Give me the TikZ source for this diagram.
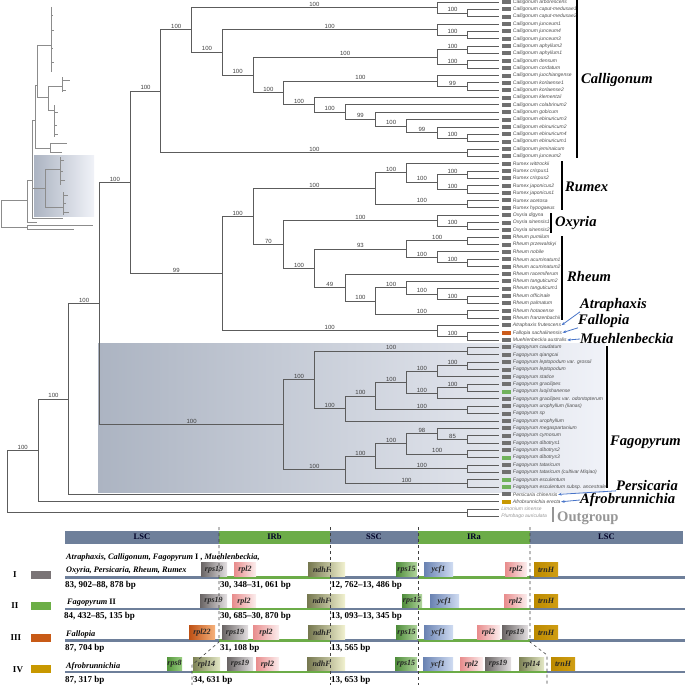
\documentclass[tikz,border=0pt]{standalone}
\usepackage{fontspec}
\setmainfont{Liberation Serif}
\setsansfont{Liberation Sans}
\usetikzlibrary{arrows.meta,positioning,calc}

\definecolor{lgray}{RGB}{112,112,112}
\definecolor{lgreen}{RGB}{112,178,92}
\definecolor{lorange}{RGB}{204,92,28}
\definecolor{lgold}{RGB}{200,152,0}
\definecolor{branch}{RGB}{92,92,92}
\definecolor{arrowblue}{RGB}{72,116,200}
\definecolor{regionblue}{RGB}{110,127,154}
\definecolor{irgreen}{RGB}{108,172,72}
\definecolor{outgray}{RGB}{150,150,150}
\definecolor{fagleft}{RGB}{172,180,194}
\definecolor{fagright}{RGB}{240,242,248}
% gene colours
\definecolor{gray19a}{RGB}{105,100,100}  \definecolor{gray19b}{RGB}{228,224,226}
\definecolor{pink2a}{RGB}{232,140,140}   \definecolor{pink2b}{RGB}{252,238,238}
\definecolor{olivea}{RGB}{118,120,80}    \definecolor{oliveb}{RGB}{242,242,208}
\definecolor{green15a}{RGB}{78,140,58}   \definecolor{green15b}{RGB}{178,214,158}
\definecolor{bluea}{RGB}{105,130,178}    \definecolor{blueb}{RGB}{208,220,242}
\definecolor{golda}{RGB}{188,138,0}      \definecolor{goldb}{RGB}{208,158,20}
\definecolor{orangea}{RGB}{190,80,20}    \definecolor{orangeb}{RGB}{246,178,124}
\definecolor{green8a}{RGB}{85,150,60}    \definecolor{green8b}{RGB}{152,206,128}
\definecolor{olive14a}{RGB}{125,130,85}  \definecolor{olive14b}{RGB}{228,232,198}
\definecolor{keyI}{RGB}{122,116,118}
\definecolor{keyII}{RGB}{108,174,70}
\definecolor{keyIII}{RGB}{200,90,22}
\definecolor{keyIV}{RGB}{200,152,0}

\tikzset{
  br/.style={draw=branch, line width=0.9pt},
  bs/.style={pos=.75, above, inner sep=0.8pt, font=\sffamily\fontsize{6}{6}\selectfont, text=black!75},
  leafbox/.style={fill=#1, minimum width=8.5pt, minimum height=4pt, inner sep=0pt},
  leafname/.style={anchor=west, inner sep=0pt, font=\sffamily\itshape\fontsize{5}{5}\selectfont, text=black!70},
  genus/.style={anchor=west, inner sep=0pt, font=\bfseries\itshape\fontsize{14.6}{15}\selectfont},
  genusbar/.style={line width=2pt},
  pointer/.style={draw=arrowblue, line width=0.8pt, shorten >=0.5pt, -{Stealth[length=3.5pt,width=2.8pt]}},
  mini/.style={draw=black!45, line width=0.4pt},
  region/.style={minimum height=13pt, inner sep=0pt, text=black!85!blue, font=\bfseries\fontsize{8.5}{8.5}\selectfont},
  gene/.style={minimum height=13.5pt, inner sep=0pt, text=black!85, font=\bfseries\itshape\fontsize{8}{8}\selectfont},
  g19/.style={gene, left color=gray19a, right color=gray19b},
  gl2/.style={gene, left color=pink2a, right color=pink2b},
  gndhF/.style={gene, left color=olivea, right color=oliveb, text width=27pt, align=left},
  g15/.style={gene, left color=green15a, right color=green15b},
  gycf/.style={gene, left color=bluea, right color=blueb},
  gtrnH/.style={gene, left color=golda, right color=goldb},
  gl22/.style={gene, left color=orangea, right color=orangeb},
  gs8/.style={gene, left color=green8a, right color=green8b},
  gl14/.style={gene, left color=olive14a, right color=olive14b},
  legbox/.style={fill=#1, minimum width=20pt, minimum height=8pt, inner sep=0pt},
  rowtxt/.style={anchor=west, inner sep=0pt, font=\bfseries\fontsize{8.3}{9}\selectfont},
  numtxt/.style={anchor=west, inner sep=0pt, font=\bfseries\fontsize{9}{9}\selectfont},
  roman/.style={inner sep=0pt, font=\bfseries\fontsize{9}{9}\selectfont},
  bound/.style={draw=black!75, dashed, line width=0.6pt},
}

\begin{document}
\begin{tikzpicture}[x=1pt, y=-1pt]
  \useasboundingbox (0,0) rectangle (685,685);

  % overview tree
  \draw[mini] (1,200) -- (1,227) (1,200) -- (27,200) (1,227) -- (27,227);
  \draw[mini] (27,225) -- (27,229) (27,225) -- (93,225) (27,229) -- (74,229);
  \draw[mini] (27,180) -- (27,222) (27,222) -- (37,222) (27,180) -- (32,180);
  \draw[mini] (32,120) -- (32,218) (32,218) -- (63,218) (32,120) -- (35,120);
  \shade[left color=fagleft, right color=fagright] (34,155) rectangle (94,216);
  \draw[mini] (32,188) -- (45,188) (45,169) -- (45,207) (45,169) -- (60,169) (45,207) -- (63,207);
  \draw[mini] (60,157) -- (60,185) (60,160) -- (64,160) (60,171) -- (63,171) (60,180) -- (65,180);
  \draw[mini] (63,192) -- (63,215) (63,195) -- (68,195) (63,203) -- (66,203) (63,212) -- (69,212);
  \draw[mini] (35,85) -- (35,148) (35,148) -- (50,148) (50,143) -- (50,152) (50,143) -- (67,143) (50,152) -- (62,152);
  \draw[mini] (35,85) -- (37,85) (37,45) -- (37,97) (37,45) -- (51,45) (51,7) -- (51,72);
  \draw[mini] (51,15) -- (53,15) (51,30) -- (54,30) (51,48) -- (53,48) (51,62) -- (54,62);
  \draw[mini] (37,97) -- (48,97) (48,86) -- (48,110) (48,86) -- (62,86) (62,77) -- (62,92) (62,80) -- (70,80) (62,90) -- (66,90);
  \draw[mini] (48,110) -- (54,110) (54,105) -- (54,137) (54,112) -- (58,112) (54,125) -- (57,125) (54,134) -- (58,134);

  % Fagopyrum shading
  \shade[left color=fagleft, right color=fagright] (98,343) rectangle (605,492);

  % tree: x = level, y = leaf row
  \begin{scope}[x=30.7pt, y=-7.35pt, xshift=7.4pt, yshift=5.35pt]
    % Leaves
    \foreach \sp/\cl [count=\i] in {
      Calligonum arborescens/lgray, Calligonum caput-medusae1/lgray, Calligonum caput-medusae2/lgray,
      Calligonum junceum1/lgray, Calligonum junceum4/lgray, Calligonum junceum3/lgray,
      Calligonum aphyllum2/lgray, Calligonum aphyllum1/lgray, Calligonum densum/lgray,
      Calligonum cordatum/lgray, Calligonum juochiangense/lgray, Calligonum korlaense1/lgray,
      Calligonum korlaense2/lgray, Calligonum klementzii/lgray, Calligonum colabrinum2/lgray,
      Calligonum gobicum/lgray, Calligonum ebinuricum3/lgray, Calligonum ebinuricum2/lgray,
      Calligonum ebinuricum4/lgray, Calligonum ebinuricum1/lgray, Calligonum jeminaicum/lgray,
      Calligonum junceum2/lgray,
      Rumex wittrockii/lgray, Rumex crispus1/lgray, Rumex crispus2/lgray, Rumex japonicus2/lgray,
      Rumex japonicus1/lgray, Rumex acetosa/lgray, Rumex hypogaeus/lgray,
      Oxyria digyna/lgray, Oxyria sinensis1/lgray, Oxyria sinensis2/lgray,
      Rheum pumilum/lgray, Rheum przewalskyi/lgray, Rheum nobile/lgray, Rheum acuminatum1/lgray,
      Rheum acuminatum2/lgray, Rheum racemiferum/lgray, Rheum tanguticum2/lgray, Rheum tanguticum1/lgray,
      Rheum officinale/lgray, Rheum palmatum/lgray, Rheum hotaoense/lgray, Rheum franzenbachii/lgray,
      Atraphaxis frutescens/lgray, Fallopia sachalinensis/lorange, Muehlenbeckia australis/lgray,
      Fagopyrum caudatum/lgray, Fagopyrum qiangcai/lgray, Fagopyrum leptopodum var. grossii/lgray,
      Fagopyrum leptopodum/lgray, Fagopyrum statice/lgray, Fagopyrum gracilipes/lgray,
      Fagopyrum luojishanense/lgreen, Fagopyrum gracilipes var. odontopterum/lgray,
      Fagopyrum urophyllum (lianas)/lgray, Fagopyrum sp/lgray, Fagopyrum urophyllum/lgray,
      Fagopyrum megaspartanium/lgray, Fagopyrum cymosum/lgray, Fagopyrum dibotrys1/lgray,
      Fagopyrum dibotrys2/lgray, Fagopyrum dibotrys3/lgreen, Fagopyrum tataricum/lgray,
      Fagopyrum tataricum (cultivar Miqiao)/lgray, Fagopyrum esculentum/lgreen,
      Fagopyrum esculentum subsp. ancestrale/lgreen,
      Persicaria chinensis/lgray, Afrobrunnichia erecta/lgold}
    {
      \coordinate (t\i) at (16,\i);
      \node[leafbox=\cl] (b\i) at ([xshift=7.7pt]t\i) {};
      \node[leafname] (s\i) at ([xshift=2pt]b\i.east) {\sp};
    }
    \coordinate (t70) at (16,70);
    \node[leafname, text=outgray] (s70) at ([xshift=2.5pt]t70) {Limonium sinense};
    \coordinate (t71) at (16,71);
    \node[leafname, text=outgray] (s71) at ([xshift=2.5pt]t71) {Plumbago auriculata};

    % Pairs
    \foreach \u/\v in {2/3, 5/6, 7/8, 9/10, 12/13, 19/20, 21/22, 24/25, 26/27, 28/29,
                       31/32, 33/34, 36/37, 41/42, 43/44, 46/47, 48/49, 50/51, 53/54,
                       56/57, 60/61, 62/63, 64/65, 66/67, 70/71}
    {
      \coordinate (p\u) at (15,{\u+0.5});
      \draw[br] (p\u) |- (t\u);
      \draw[br] (p\u) |- (t\v);
    }

    % Internal nodes
    \coordinate (root) at (0,66.256);  \coordinate (n1) at (1,62.011);
    \coordinate (n2) at (2,55.022);    \coordinate (n3) at (3,42.044);
    \coordinate (n4) at (4,25.557);    \coordinate (cal) at (5,13.148);
    \coordinate (c1) at (6,4.796);     \coordinate (c2) at (7,7.842);
    \coordinate (c3) at (8,10.934);    \coordinate (c4) at (9,13.367);
    \coordinate (a1) at (14,1.75);     \coordinate (a2) at (14,4.75);
    \coordinate (a3) at (14,8.5);      \coordinate (a4) at (14,11.75);
    \coordinate (b1) at (10,14.984);   \coordinate (b2) at (11,15.969);
    \coordinate (b3) at (12,16.9375);  \coordinate (b4) at (13,17.875);
    \coordinate (b5) at (14,18.75);
    \coordinate (n99) at (7,37.967);   \coordinate (rr) at (8,30.184);
    \coordinate (rum) at (12,26.375);  \coordinate (r2) at (13,24.25);
    \coordinate (r3) at (14,25.5);
    \coordinate (ro) at (9,33.992);    \coordinate (oxy) at (14,30.75);
    \coordinate (rhe) at (10,37.234);  \coordinate (h2) at (13,34.625);
    \coordinate (h3) at (14,35.75);    \coordinate (h4) at (11,39.844);
    \coordinate (h5) at (12,41.6875);  \coordinate (h6) at (13,39.875);
    \coordinate (h7) at (14,40.75);    \coordinate (atr) at (14,45.75);
    \coordinate (fag) at (9,58.531);   \coordinate (f2) at (10,52.406);
    \coordinate (f3) at (11,56.3125);  \coordinate (f4) at (12,54.625);
    \coordinate (f5) at (13,52.75);    \coordinate (f6) at (14,51.25);
    \coordinate (f7) at (14,54.25);
    \coordinate (g11) at (11,64.656);  \coordinate (g12) at (12,62.8125);
    \coordinate (g13) at (13,61.125);  \coordinate (g98) at (14,59.75);

    % Branches with support values
    \foreach \p/\c/\b in {
      root/n1/100, root/p70/, n1/n2/100, n1/t69/, n2/n3/100, n2/t68/,
      n3/n4/100, n3/fag/100, n4/cal/100, n4/n99/99,
      cal/c1/100, cal/p21/100, c1/a1/100, c1/c2/100, c2/a2/100, c2/c3/100,
      c3/a3/100, c3/c4/100, c4/a4/100, c4/b1/100,
      a1/t1/, a1/p2/100, a2/t4/, a2/p5/100, a3/p7/100, a3/p9/100, a4/t11/, a4/p12/99,
      b1/t14/, b1/b2/100, b2/t15/, b2/b3/99, b3/t16/, b3/b4/100,
      b4/t17/, b4/b5/99, b5/t18/, b5/p19/100,
      n99/rr/100, n99/atr/100, rr/rum/100, rr/ro/70,
      rum/r2/100, rum/p28/100, r2/t23/, r2/r3/100, r3/p24/100, r3/p26/100,
      ro/oxy/100, ro/rhe/100, oxy/t30/, oxy/p31/100,
      rhe/h2/93, rhe/h4/49, h2/p33/100, h2/h3/100, h3/t35/, h3/p36/100,
      h4/t38/, h4/h5/100, h5/h6/100, h5/p43/100, h6/t39/, h6/h7/100, h7/t40/, h7/p41/100,
      atr/t45/, atr/p46/100,
      fag/f2/100, fag/g11/100, f2/p48/100, f2/f3/100, f3/f4/100, f3/t58/,
      f4/f5/100, f4/p56/100, f5/f6/100, f5/f7/100, f6/p50/100, f6/t52/, f7/p53/100, f7/t55/,
      g11/g12/100, g11/p66/100, g12/g13/100, g12/p64/100, g13/g98/98, g13/p62/100,
      g98/t59/, g98/p60/85}
      \draw[br] (\p) |- node[bs]{\b} (\c);
  \end{scope}

  % Genus labels
  \draw[genusbar] (577,0) -- (577,158);
  \draw[genusbar] (562,161) -- (562,210);
  \draw[genusbar] (551,213) -- (551,233);
  \draw[genusbar] (562,236) -- (562,320);
  \draw[genusbar] (607,346) -- (607,488);
  \draw[genusbar, outgray] (553,507) -- (553,522);
  \node[genus] (lcal) at (581,80) {Calligonum};
  \node[genus] (lrum) at (565,187) {Rumex};
  \node[genus] (loxy) at (555,223) {Oxyria};
  \node[genus] (lrhe) at (567,277) {Rheum};
  \node[genus] (latr) at (580,305) {Atraphaxis};
  \node[genus] (lfal) at (578,321) {Fallopia};
  \node[genus] (lmue) at (580,339) {Muehlenbeckia};
  \node[genus] (lfag) at (610,442) {Fagopyrum};
  \node[genus] (lper) at (616,485.5) {Persicaria};
  \node[genus] (lafr) at (580,500) {Afrobrunnichia};
  \node[genus, text=outgray, font=\bfseries\fontsize{14.6}{15}\selectfont] (lout) at (557,518) {Outgroup};
  \draw[pointer] (latr.south west) -- (s45.east);
  \draw[pointer] (lfal.south west) -- (s46.east);
  \draw[pointer] (lmue.west) -- (s47.east);
  \draw[pointer] (lper.south west) -- (s68.east);
  \draw[pointer] (lafr.west) -- (s69.east);

  % Regions
  \node[region, fill=regionblue, minimum width=154pt] (hl1) at (142,537) {LSC};
  \node[region, fill=irgreen, minimum width=111pt] (hirb) at (274.5,537) {IRb};
  \node[region, fill=regionblue, minimum width=88pt] (hssc) at (374,537) {SSC};
  \node[region, fill=irgreen, minimum width=112pt] (hira) at (474,537) {IRa};
  \node[region, fill=regionblue, minimum width=153pt] (hl2) at (606.5,537) {LSC};

  % Genome bars
  \foreach \r/\ja/\jb in {577.5/219/530, 609/219/530, 640.5/219/530, 672/192/547}
  {
    \draw[line width=2.5pt, regionblue] (65,\r) -- (685,\r);
    \draw[line width=2.5pt, irgreen] (\ja,\r) -- (330,\r);
    \draw[line width=2.5pt, irgreen] (418,\r) -- (\jb,\r);
  }

  % Genes
  \foreach \r/\st/\xa/\xb/\tx [count=\k] in {
    577.5/g19/201/227/rps19, 577.5/gl2/234/256/rpl2, 577.5/gndhF/308/345/ndhF,
    577.5/g15/396/417/rps15, 577.5/gycf/424/453/ycf1, 577.5/gl2/505/527/rpl2,
    577.5/gtrnH/534/558/trnH,
    609/g19/200/227/rps19, 609/gl2/232/256/rpl2, 609/gndhF/307/345/ndhF,
    609/g15/402/422/rps15, 609/gycf/430/459/ycf1, 609/gl2/504/527/rpl2,
    609/gtrnH/534/558/trnH,
    640.5/gl22/189/215/rpl22, 640.5/g19/222/248/rps19, 640.5/gl2/253/279/rpl2,
    640.5/gndhF/308/345/ndhF, 640.5/g15/396/417/rps15, 640.5/gycf/424/453/ycf1,
    640.5/gl2/477/500/rpl2, 640.5/g19/502/528/rps19, 640.5/gtrnH/534/558/trnH,
    672/gs8/167/182/rps8, 672/gl14/193/220/rpl14, 672/g19/227/253/rps19,
    672/gl2/256/279/rpl2, 672/gndhF/307/345/ndhF, 672/g15/395/417/rps15,
    672/gycf/423/453/ycf1, 672/gl2/460/483/rpl2, 672/g19/485/511/rps19,
    672/gl14/519/544/rpl14, 672/gtrnH/551/575/trnH}
    \node[\st, minimum width={(\xb-\xa)*1pt}] (gene\k) at ({(\xa+\xb)/2},{\r-7.9}) {\tx};

  % Boundaries
  \draw[bound] (219,527) -- (219,642) -- (192,665) -- (192,685);
  \draw[bound] (330,527) -- (330,685);
  \draw[bound] (418,527) -- (418,685);
  \draw[bound] (530,527) -- (530,642) -- (547,655) -- (547,685);

  % Types
  \node[roman] (rI) at (15,575) {I};
  \node[roman] (rII) at (15,606) {II};
  \node[roman] (rIII) at (16,638) {III};
  \node[roman] (rIV) at (18,670) {IV};
  \node[legbox=keyI] (kI) at (41,574.5) {};
  \node[legbox=keyII] (kII) at (41,606) {};
  \node[legbox=keyIII] (kIII) at (41,637.5) {};
  \node[legbox=keyIV] (kIV) at (41,669.3) {};

  \node[rowtxt] (tI1) at (66,557.3) {\textit{Atraphaxis, Calligonum, Fagopyrum} I , \textit{Muehlenbeckia,}};
  \node[rowtxt] (tI2) at (66,570.7) {\textit{Oxyria, Persicaria, Rheum, Rumex}};
  \node[rowtxt] (tII) at (67,602.7) {\textit{Fagopyrum} II};
  \node[rowtxt] (tIII) at (66,634.3) {\textit{Fallopia}};
  \node[rowtxt] (tIV) at (66,666.7) {\textit{Afrobrunnichia}};

  \node[numtxt] (bI1) at (65,585.5) {83, 902–88, 878 bp};
  \node[numtxt] (bI2) at (220,585.5) {30, 348–31, 061 bp};
  \node[numtxt] (bI3) at (331,585.5) {12, 762–13, 486 bp};
  \node[numtxt] (bII1) at (64,616.5) {84, 432–85, 135 bp};
  \node[numtxt] (bII2) at (220,616.5) {30, 685–30, 870 bp};
  \node[numtxt] (bII3) at (331,616.5) {13, 093–13, 345 bp};
  \node[numtxt] (bIII1) at (65,648) {87, 704 bp};
  \node[numtxt] (bIII2) at (220,648) {31, 108 bp};
  \node[numtxt] (bIII3) at (331,648) {13, 565 bp};
  \node[numtxt] (bIV1) at (65,680) {87, 317 bp};
  \node[numtxt] (bIV2) at (193,680) {34, 631 bp};
  \node[numtxt] (bIV3) at (331,680) {13, 653 bp};
\end{tikzpicture}
\end{document}
